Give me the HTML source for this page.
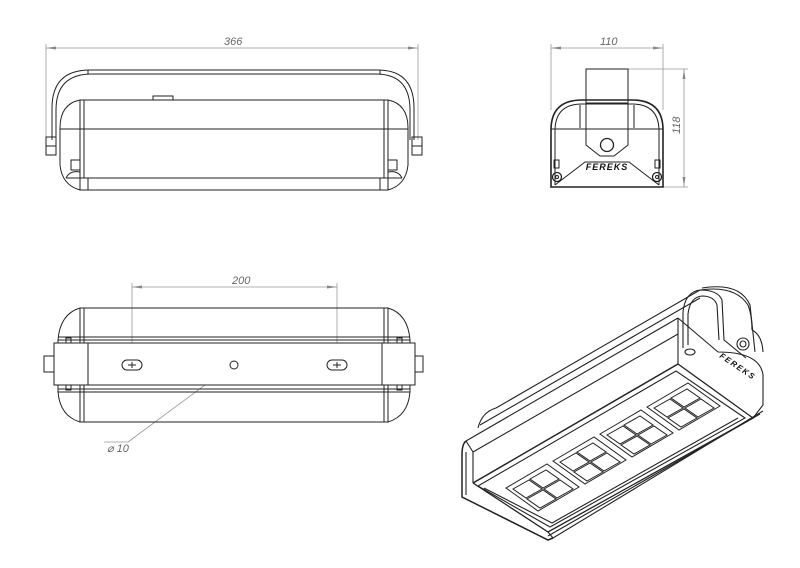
<!DOCTYPE html>
<html><head><meta charset="utf-8"><style>
html,body{margin:0;padding:0;background:#fff;}
svg{display:block;}
text{font-family:"Liberation Sans",sans-serif;font-style:italic;fill:#666;}
</style></head><body>
<svg width="800" height="568" viewBox="0 0 800 568" xmlns="http://www.w3.org/2000/svg">
<defs>
<marker id="ar" markerWidth="10" markerHeight="6" refX="10" refY="3" orient="auto-start-reverse" markerUnits="userSpaceOnUse"><path d="M0,1.5 L10,3 L0,4.5z" fill="#888"/></marker>
</defs>
<g fill="none" stroke="#222" stroke-width="1">
<!-- TOP LEFT VIEW -->
<g stroke="#999" stroke-width="0.8">
<line x1="46" y1="48" x2="418" y2="48" marker-start="url(#ar)" marker-end="url(#ar)"/>
<line x1="46" y1="44" x2="46" y2="140"/><line x1="418" y1="44" x2="418" y2="140"/>
</g>
<text x="224" y="45" font-size="11" stroke="none">366</text>
<path d="M52,140 V108 Q52,70 90,70 H378 Q414,70 414,108 V140"/>
<path d="M56,140 V110 Q56,74 92,74 H376 Q410,74 410,110 V140"/>
<line x1="88" y1="70" x2="88" y2="74"/><line x1="380" y1="70" x2="380" y2="74"/>
<path d="M80,100 H388"/>
<path d="M80,100 Q60,104 60,128 V165 Q62,185 80,190 H388 Q406,185 408,165 V128 Q408,104 388,100"/>
<line x1="80" y1="100" x2="80" y2="190"/><line x1="388" y1="100" x2="388" y2="190"/>
<line x1="84" y1="100" x2="84" y2="178"/><line x1="384" y1="100" x2="384" y2="178"/>
<line x1="60" y1="129" x2="408" y2="129"/>
<line x1="66" y1="178" x2="402" y2="178"/>
<line x1="88" y1="178" x2="88" y2="190"/><line x1="380" y1="178" x2="380" y2="190"/>
<rect x="153" y="96" width="20" height="4"/>
<rect x="46" y="137" width="10" height="18"/><line x1="46" y1="146" x2="56" y2="146"/>
<rect x="412" y="137" width="10" height="18"/><line x1="412" y1="146" x2="422" y2="146"/>
<rect x="71" y="160" width="9" height="10"/><rect x="388" y="160" width="9" height="10"/>
<path d="M66,178 Q70,170 80,172"/><path d="M402,178 Q398,170 388,172"/>

<!-- SIDE VIEW -->
<g stroke="#999" stroke-width="0.8">
<line x1="551" y1="48" x2="663" y2="48" marker-start="url(#ar)" marker-end="url(#ar)"/>
<line x1="551" y1="44" x2="551" y2="110"/><line x1="663" y1="44" x2="663" y2="110"/>
<line x1="684" y1="69" x2="684" y2="187" marker-start="url(#ar)" marker-end="url(#ar)"/>
<line x1="628" y1="69" x2="688" y2="69"/><line x1="663" y1="187" x2="688" y2="187"/>
</g>
<text x="600" y="45" font-size="11" stroke="none">110</text>
<text x="0" y="0" font-size="11" stroke="none" transform="translate(680,134) rotate(-90)">118</text>
<rect x="586" y="69" width="42" height="34"/>
<path d="M551,187 V130 Q551,100 582,100 H632 Q663,100 663,130 V187 Z" stroke-width="1.6"/>
<path d="M555,185 V131 Q555,104 582,104 H632 Q659,104 659,131 V185"/>
<line x1="551" y1="129" x2="663" y2="129"/>
<path d="M586,103 V145 L600,156 H614 L628,145 V103"/>
<circle cx="607" cy="145" r="6.5" stroke-width="1.3"/>
<path d="M555,185 L585,162 H629 L659,185"/>
<line x1="580" y1="105" x2="580" y2="128"/><line x1="634" y1="105" x2="634" y2="128"/>
<circle cx="557" cy="177" r="4.5" stroke-width="1.3"/><circle cx="557" cy="177" r="1.5"/>
<circle cx="657" cy="177" r="4.5" stroke-width="1.3"/><circle cx="657" cy="177" r="1.5"/>
<rect x="554" y="160" width="5" height="8"/><rect x="655" y="160" width="5" height="8"/>
<text x="607" y="170" font-size="9" font-weight="bold" font-style="normal" text-anchor="middle" stroke="none" style="fill:#111;letter-spacing:1px">FEREKS</text>

<!-- BOTTOM VIEW -->
<g stroke="#999" stroke-width="0.8">
<line x1="132" y1="287" x2="337" y2="287" marker-start="url(#ar)" marker-end="url(#ar)"/>
<line x1="132" y1="283" x2="132" y2="365"/><line x1="337" y1="283" x2="337" y2="365"/>
<line x1="255" y1="348" x2="128" y2="442"/><line x1="128" y1="442" x2="104" y2="442"/>
</g>
<text x="107" y="452" font-size="11" stroke="none">⌀ 10</text>
<text x="232" y="284" font-size="11" stroke="none">200</text>
<path d="M80,308 H388 Q408,314 410,340 V392 Q408,416 388,422 H80 Q60,416 58,392 V340 Q60,314 80,308Z"/>
<line x1="80" y1="308" x2="80" y2="422"/><line x1="388" y1="308" x2="388" y2="422"/>
<line x1="84" y1="308" x2="84" y2="422"/><line x1="384" y1="308" x2="384" y2="422"/>
<line x1="58" y1="337" x2="410" y2="337"/><line x1="58" y1="392" x2="410" y2="392"/>
<line x1="58" y1="340" x2="410" y2="340"/><line x1="58" y1="389" x2="410" y2="389"/>
<rect x="54" y="343" width="361" height="42" fill="#fff"/>
<line x1="88" y1="343" x2="88" y2="385"/><line x1="382" y1="343" x2="382" y2="385"/>
<rect x="44" y="356" width="10" height="16"/><rect x="415" y="356" width="8" height="16"/>
<rect x="122" y="360" width="20" height="10" rx="5"/><rect x="327" y="360" width="20" height="10" rx="5"/>
<path d="M128,365 h8 M132,362 v6 M333,365 h8 M337,362 v6"/>
<circle cx="234" cy="365" r="4"/>
<rect x="66" y="338" width="5" height="5"/><rect x="66" y="385" width="5" height="5"/>
<rect x="397" y="338" width="5" height="5"/><rect x="397" y="385" width="5" height="5"/>

<!-- ISOMETRIC VIEW -->
<g stroke-width="1.1">
<path d="M478,428 Q482,412 496,408"/>
<path d="M496,408 L700,290"/>
<path d="M480,425 L700,298"/>
<path d="M466,441 L678,318"/>
<path d="M466,441 Q462,444 462,455 L462,497 L548,540 L553,538" stroke-width="1.5"/>
<path d="M466,441 L473,452 L473,483"/>
<path d="M466,452 L466,495"/>
<path d="M473,483 L678,364" stroke-width="1.5"/>
<path d="M473,452 L678,334"/>
<path d="M678,318 L678,364"/>
<path d="M700,290 Q735,285 748,305 Q752,315 752,330"/>
<path d="M678,318 L718,352 Q760,352 763,375 L763,405 L753,418"/>
<path d="M752,330 Q762,335 763,352"/>
<path d="M473,483 L548,532 L753,418 L678,364" stroke-width="1.3"/>
<path d="M478,486 L550,527 L745,418 L676,371 Z"/>
<path d="M484,488 L552,523 L738,418"/>
<path d="M548,532 L553,538 L763,411"/>
<path d="M548,536 L760,414"/>
<path d="M683,348 L683,312 Q685,292 700,290 Q718,290 722,300 L724,340 L746,358"/>
<path d="M688,345 L688,314 Q690,297 702,296 Q714,296 717,305 L719,340"/>
<path d="M702,288 Q740,282 750,305 L755,352"/>
<circle cx="743" cy="344" r="6"/><circle cx="743" cy="344" r="3"/>
<ellipse cx="690" cy="352" rx="5" ry="3"/>
</g>
<text x="719" y="357" font-size="8" font-weight="bold" font-style="normal" stroke="none" style="fill:#111;letter-spacing:1.5px" transform="rotate(34 719 357)">FEREKS</text>
<!-- LED groups: corners computed directly -->
<g stroke-width="1">
<!-- group 1 center 543,488 ; u=(16.4,-9.5) v=(13.9,9.9) -->
<path d="M506,488 L547,464 L579,487 L538,511 Z"/>
<path d="M513,489 L529,480 L542,489 L526,498 Z M530,479 L546,470 L559,479 L543,488 Z M527,499 L543,490 L556,499 L540,508 Z M544,489 L560,480 L573,489 L557,498 Z"/>
<path d="M553,461 L594,437 L626,460 L585,484 Z"/>
<path d="M560,462 L576,453 L589,462 L573,471 Z M577,452 L593,443 L606,452 L590,461 Z M574,472 L590,463 L603,472 L587,481 Z M591,462 L607,453 L620,462 L604,471 Z"/>
<path d="M600,434 L641,410 L673,433 L632,457 Z"/>
<path d="M607,435 L623,426 L636,435 L620,444 Z M624,425 L640,416 L653,425 L637,434 Z M621,445 L637,436 L650,445 L634,454 Z M638,435 L654,426 L667,435 L651,444 Z"/>
<path d="M647,407 L688,383 L720,406 L679,430 Z"/>
<path d="M654,408 L670,399 L683,408 L667,417 Z M671,398 L687,389 L700,398 L684,407 Z M668,418 L684,409 L697,418 L681,427 Z M685,408 L701,399 L714,408 L698,417 Z"/>
</g>
</g>
</svg>
</body></html>
